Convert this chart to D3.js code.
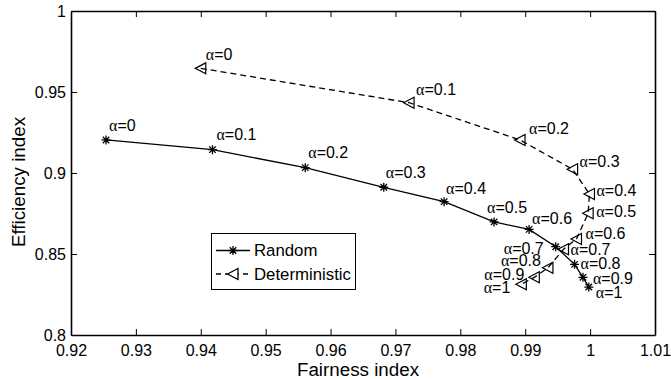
<!DOCTYPE html>
<html>
<head>
<meta charset="utf-8">
<script src="https://cdn.jsdelivr.net/npm/d3@7"></script>
<style>
  body { margin: 0; background: #fff; }
  svg text { font-family: "Liberation Sans", Arial, Helvetica, sans-serif; fill: #000; }
</style>
</head>
<body>
<svg id="chart" width="671" height="380"></svg>
<script>
// alpha values used for point labels
const alphas = ['0', '0.1', '0.2', '0.3', '0.4', '0.5', '0.6', '0.7', '0.8', '0.9', '1'];

// Random scheme
const randomFairness = [0.9254, 0.9418, 0.9561, 0.9682, 0.9775, 0.9852, 0.9906, 0.9947, 0.9976, 0.9989, 0.9998];
const randomEfficiency = [0.9204, 0.9144, 0.9033, 0.8912, 0.8823, 0.8698, 0.8652, 0.8545, 0.8436, 0.8356, 0.8296];

// Deterministic scheme
const detFairness = [0.9400, 0.9721, 0.9892, 0.9973, 0.9999, 0.9997, 0.9979, 0.9959, 0.9935, 0.9914, 0.9894];
const detEfficiency = [0.9646, 0.9434, 0.9204, 0.9023, 0.8870, 0.8751, 0.8593, 0.8529, 0.8415, 0.8356, 0.8313];

// axis ticks
const xTicks = [0.92, 0.93, 0.94, 0.95, 0.96, 0.97, 0.98, 0.99, 1, 1.01];
const yTicks = [0.8, 0.85, 0.9, 0.95, 1];

const seriesNames = ['Random', 'Deterministic'];

const svg = d3.select('#chart');
const margin = { left: 71, right: 16, top: 11, bottom: 45 };
const W = 671, H = 380;

const x = d3.scaleLinear().domain([0.92, 1.01]).range([margin.left, W - margin.right]);
const y = d3.scaleLinear().domain([0.8, 1]).range([H - margin.bottom, margin.top]);

const fmt = d3.format('~g');
const tickFont = '16px';

// bottom axis
const gx = svg.append('g')
  .attr('transform', `translate(0,${y(0.8)})`)
  .call(d3.axisBottom(x).tickValues(xTicks).tickFormat(fmt).tickSizeInner(-6).tickSizeOuter(0).tickPadding(10));
// left axis
const gy = svg.append('g')
  .attr('transform', `translate(${x(0.92)},0)`)
  .call(d3.axisLeft(y).tickValues(yTicks).tickFormat(fmt).tickSizeInner(-6).tickSizeOuter(0).tickPadding(5));
// top & right (box)
const gt = svg.append('g')
  .attr('transform', `translate(0,${y(1)})`)
  .call(d3.axisTop(x).tickValues(xTicks).tickFormat('').tickSizeInner(-6).tickSizeOuter(0));
const gr = svg.append('g')
  .attr('transform', `translate(${x(1.01)},0)`)
  .call(d3.axisRight(y).tickValues(yTicks).tickFormat('').tickSizeInner(-6).tickSizeOuter(0));

[gx, gy, gt, gr].forEach(g => {
  g.selectAll('path.domain').attr('stroke', '#000').attr('stroke-width', 1.6);
  g.selectAll('.tick line').attr('stroke', '#000').attr('stroke-width', 1);
  g.selectAll('.tick text').style('font-size', tickFont).attr('fill', '#000');
  g.attr('font-family', null).attr('font-size', null);
});

// axis titles
svg.append('text')
  .attr('x', 358).attr('y', 376)
  .attr('text-anchor', 'middle')
  .style('font-size', '18.8px')
  .text('Fairness index');

svg.append('text')
  .attr('transform', `translate(25,${182}) rotate(-90)`)
  .attr('text-anchor', 'middle')
  .style('font-size', '18.8px')
  .text('Efficiency index');

// marker shapes
const starPath = (r) => {
  const d = r * 0.72;
  return `M${-r},0L${r},0M0,${-r}L0,${r}M${-d},${-d}L${d},${d}M${-d},${d}L${d},${-d}`;
};
const triPath = 'M-5.5,0L5,-5.5L5,5.5Z';

const randomData = randomFairness.map((f, i) => ({ x: f, y: randomEfficiency[i], a: alphas[i] }));
const detData = detFairness.map((f, i) => ({ x: f, y: detEfficiency[i], a: alphas[i] }));

const line = d3.line().x(d => x(d.x)).y(d => y(d.y));

const plot = svg.append('g');

// Random: solid line with asterisks
plot.append('path')
  .datum(randomData)
  .attr('fill', 'none')
  .attr('stroke', '#000')
  .attr('stroke-width', 1.3)
  .attr('d', line);
plot.selectAll('.star')
  .data(randomData)
  .enter().append('path')
  .attr('class', 'star')
  .attr('transform', d => `translate(${x(d.x)},${y(d.y)})`)
  .attr('d', starPath(4.5))
  .attr('stroke', '#000')
  .attr('stroke-width', 1.3)
  .attr('fill', 'none');

// Deterministic: dashed line with left triangles
plot.append('path')
  .datum(detData)
  .attr('fill', 'none')
  .attr('stroke', '#000')
  .attr('stroke-width', 1.3)
  .attr('stroke-dasharray', '6,4')
  .attr('d', line);
plot.selectAll('.tri')
  .data(detData)
  .enter().append('path')
  .attr('class', 'tri')
  .attr('transform', d => `translate(${x(d.x)},${y(d.y)})`)
  .attr('d', triPath)
  .attr('stroke', '#000')
  .attr('stroke-width', 1.2)
  .attr('fill', 'none');

// label placement (pixel offsets from the point, text-anchor)
const randomLabelPos = [
  [3, -15, 'start'], [4, -15, 'start'], [3, -15, 'start'], [2, -15, 'start'],
  [2, -13, 'start'], [-7, -15, 'start'], [3, -11, 'start'], [-12, 2, 'end'],
  [6, -1, 'start'], [10, 1, 'start'], [7, 5, 'start']
];
const detLabelPos = [
  [5, -14, 'start'], [7, -13, 'start'], [9, -12, 'start'], [7, -8, 'start'],
  [7, -4, 'start'], [8, -2, 'start'], [9, -6, 'start'], [7, 0, 'start'],
  [-7, -7, 'end'], [-10, -3, 'end'], [-11, 3, 'end']
];

function addLabels(data, pos, cls) {
  const t = plot.selectAll('.' + cls)
    .data(data)
    .enter().append('text')
    .attr('class', cls)
    .attr('x', (d, i) => x(d.x) + pos[i][0])
    .attr('y', (d, i) => y(d.y) + pos[i][1])
    .attr('dy', '0.35em')
    .attr('text-anchor', (d, i) => pos[i][2])
    .style('font-size', '16px');
  t.append('tspan').style('font-family', '"Liberation Serif", "DejaVu Serif", serif').text('α');
  t.append('tspan').text(d => '=' + d.a);
}
addLabels(randomData, randomLabelPos, 'rlab');
addLabels(detData, detLabelPos, 'dlab');

// legend
const lg = svg.append('g');
lg.append('rect')
  .attr('x', 211.5).attr('y', 233.5)
  .attr('width', 144).attr('height', 56)
  .attr('fill', '#fff')
  .attr('stroke', '#000')
  .attr('stroke-width', 1);

const legendRows = [
  { name: seriesNames[0], dash: null, marker: starPath(4.5), cy: 250.5 },
  { name: seriesNames[1], dash: '6,4', marker: triPath, cy: 274 }
];
legendRows.forEach(r => {
  lg.append('line')
    .attr('x1', 216).attr('x2', 250)
    .attr('y1', r.cy).attr('y2', r.cy)
    .attr('stroke', '#000').attr('stroke-width', 1.3)
    .attr('stroke-dasharray', r.dash ? '5,4' : null);
  lg.append('path')
    .attr('transform', `translate(233,${r.cy})`)
    .attr('d', r.marker)
    .attr('fill', r.dash ? '#fff' : 'none')
    .attr('stroke', '#000').attr('stroke-width', 1.3);
  lg.append('text')
    .attr('x', 254).attr('y', r.cy)
    .attr('dy', '0.35em')
    .style('font-size', '16.8px')
    .text(r.name);
});
</script>
</body>
</html>
